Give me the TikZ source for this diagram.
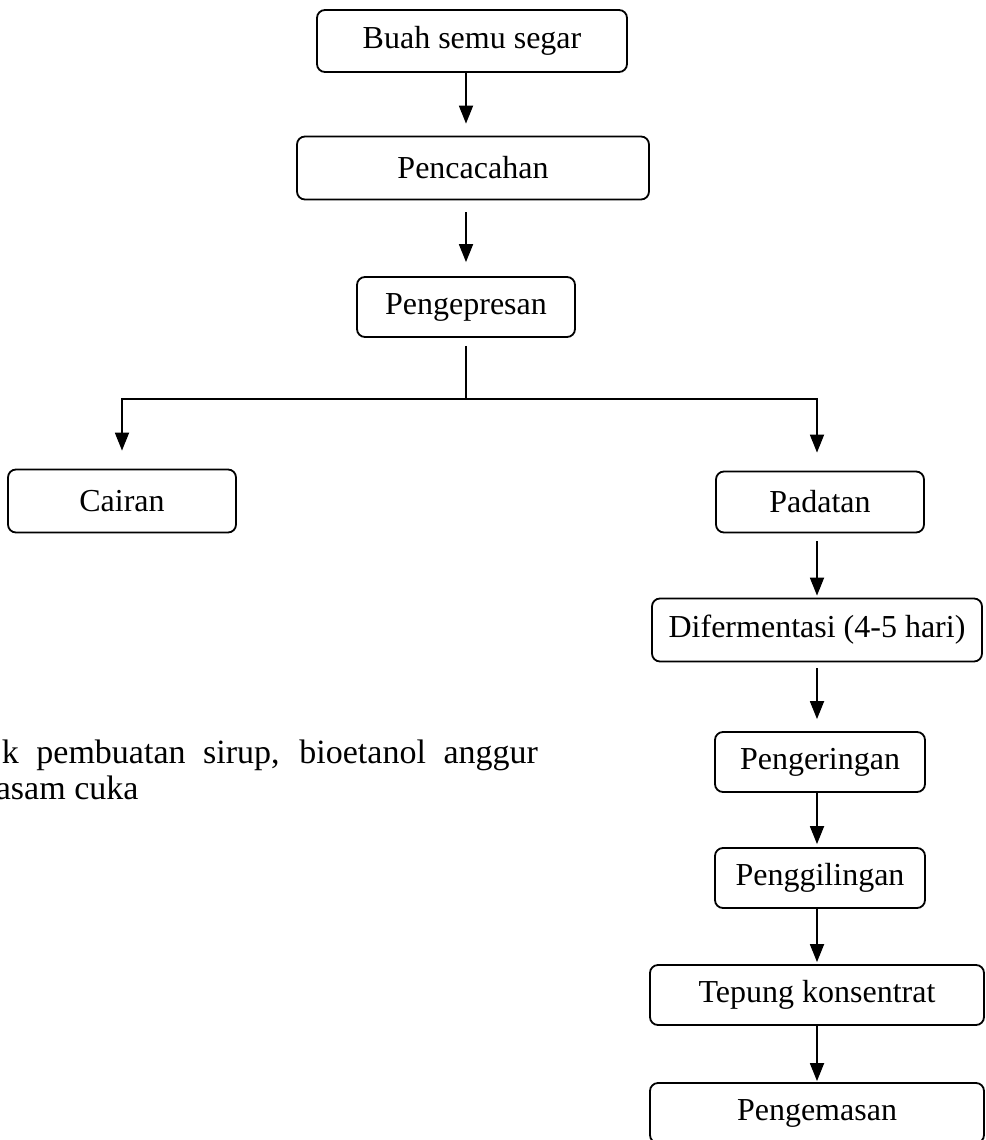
\documentclass[tikz,border=0pt]{standalone}
\usepackage{fontspec}
\setmainfont{Liberation Serif}
\usepackage{tikz}
\usetikzlibrary{positioning,calc}
\usetikzlibrary{arrows.meta}
\tikzstyle{every picture}=[line width=0.9pt]

\begin{document}
\begin{tikzpicture}[
x=0.5pt, y=-0.5pt,
step box/.style={rectangle, draw=black, rounded corners=4pt, font=\fontsize{16}{19}\selectfont, inner sep=0pt},
flow/.style={-{Triangle[width=7pt,length=9pt]}},
note/.style={font=\fontsize{17}{20}\selectfont, inner sep=0pt, text height=11pt, text depth=2.5pt, anchor=base west},
]
\useasboundingbox (0,0) rectangle (985,1140);

\node[step box, minimum width=155pt, minimum height=31pt] (buah) at (472,41) {Buah semu segar};
\node[step box, minimum width=176pt, minimum height=31.5pt] (cacah) at (473,168) {Pencacahan};
\node[step box, minimum width=109pt, minimum height=30pt] (pres) at (466,307) {Pengepresan};
\node[step box, minimum width=114pt, minimum height=31.5pt] (cairan) at (122,501) {Cairan};
\node[step box, minimum width=104pt, minimum height=30.5pt] (padatan) at (820,502) {Padatan};
\node[step box, minimum width=165pt, minimum height=31.5pt] (ferm) at (817,630) {Difermentasi (4-5 hari)};
\node[step box, minimum width=105pt, minimum height=30pt] (kering) at (820,762) {Pengeringan};
\node[step box, minimum width=105pt, minimum height=30pt] (giling) at (820,878) {Penggilingan};
\node[step box, minimum width=167pt, minimum height=30pt] (tepung) at (817,995) {Tepung konsentrat};
\node[step box, minimum width=167pt, minimum height=30pt] (kemas) at (817,1113) {Pengemasan};

% teks samping
\node[note] (note1) at (1,763) {\makebox[268pt][s]{k pembuatan sirup, bioetanol anggur}};
\node[note] (note2) at (-5,799) {asam cuka};

\coordinate (kiri) at (pres.south);
\coordinate (kanan) at (ferm.south);
\draw[flow, shorten >=6pt] (buah.south -| kiri) -- (cacah.north -| kiri);
\draw[flow, shorten <=6pt, shorten >=7pt] (cacah.south -| kiri) -- (pres.north -| kiri);
\draw (pres.south) ++(0,8) coordinate (pres b) -- ++(0,53) coordinate (split);
\draw[flow, shorten >=9pt] (split) -| (cairan.north);
\draw[flow, shorten >=9pt] (split) -| (padatan.north -| kanan);
\draw[flow, shorten <=4pt, shorten >=1pt] (padatan.south -| kanan) -- (ferm.north);
\draw[flow, shorten <=3pt, shorten >=6pt] (ferm.south) -- (kering.north -| kanan);
\draw[flow, shorten >=1.5pt] (kering.south -| kanan) -- (giling.north -| kanan);
\draw[flow, shorten >=1pt] (giling.south -| kanan) -- (tepung.north);
\draw[flow, shorten >=0.5pt] (tepung.south) -- (kemas.north);
\end{tikzpicture}
\end{document}
